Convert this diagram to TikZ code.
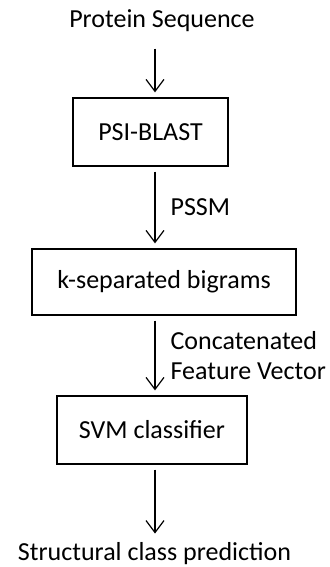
\documentclass[tikz,border=0pt]{standalone}
\usepackage{fontspec}
\setmainfont{Carlito}
\usetikzlibrary{arrows.meta}
\begin{document}
\begin{tikzpicture}[x=0.5pt,y=-0.5pt,
  every node/.style={font=\fontsize{13}{15}\selectfont, text=black},
  procbox/.style={draw=black, line width=0.6pt, inner sep=0pt},
  arr/.style={draw=black, line width=0.6pt, -{Straight Barb[length=6pt,width=9pt,line width=0.6pt]}, shorten <=2.5pt, shorten >=2.5pt},
  lbl/.style={anchor=west, inner sep=0pt, xshift=7.5pt, align=left}]
\useasboundingbox (0,0) rectangle (330,567);
\coordinate (ax) at (155,0);
\node[anchor=base, inner sep=0pt] (top) at (162,28) {Protein Sequence};
\node[procbox, minimum width=77.5pt, minimum height=34pt] (psi) at (150.5,132) {PSI-BLAST};
\node[procbox, minimum width=132pt, minimum height=33pt] (kbig) at (164,282) {k-separated bigrams};
\node[procbox, minimum width=95pt, minimum height=34pt] (svm) at (152,430) {SVM classifier};
\node[anchor=base, inner sep=0pt] (out) at (154.5,560) {Structural class prediction};
\draw[arr, shorten <=8pt] (top.south -| ax) -- (psi.north -| ax);
\draw[arr] (psi.south -| ax) -- node[lbl] {PSSM} (kbig.north -| ax);
\draw[arr] (kbig.south -| ax) -- node[lbl] {Concatenated\\Feature Vector} (svm.north -| ax);
\draw[arr, shorten >=4pt] (svm.south -| ax) -- (out.north -| ax);
\end{tikzpicture}
\end{document}
